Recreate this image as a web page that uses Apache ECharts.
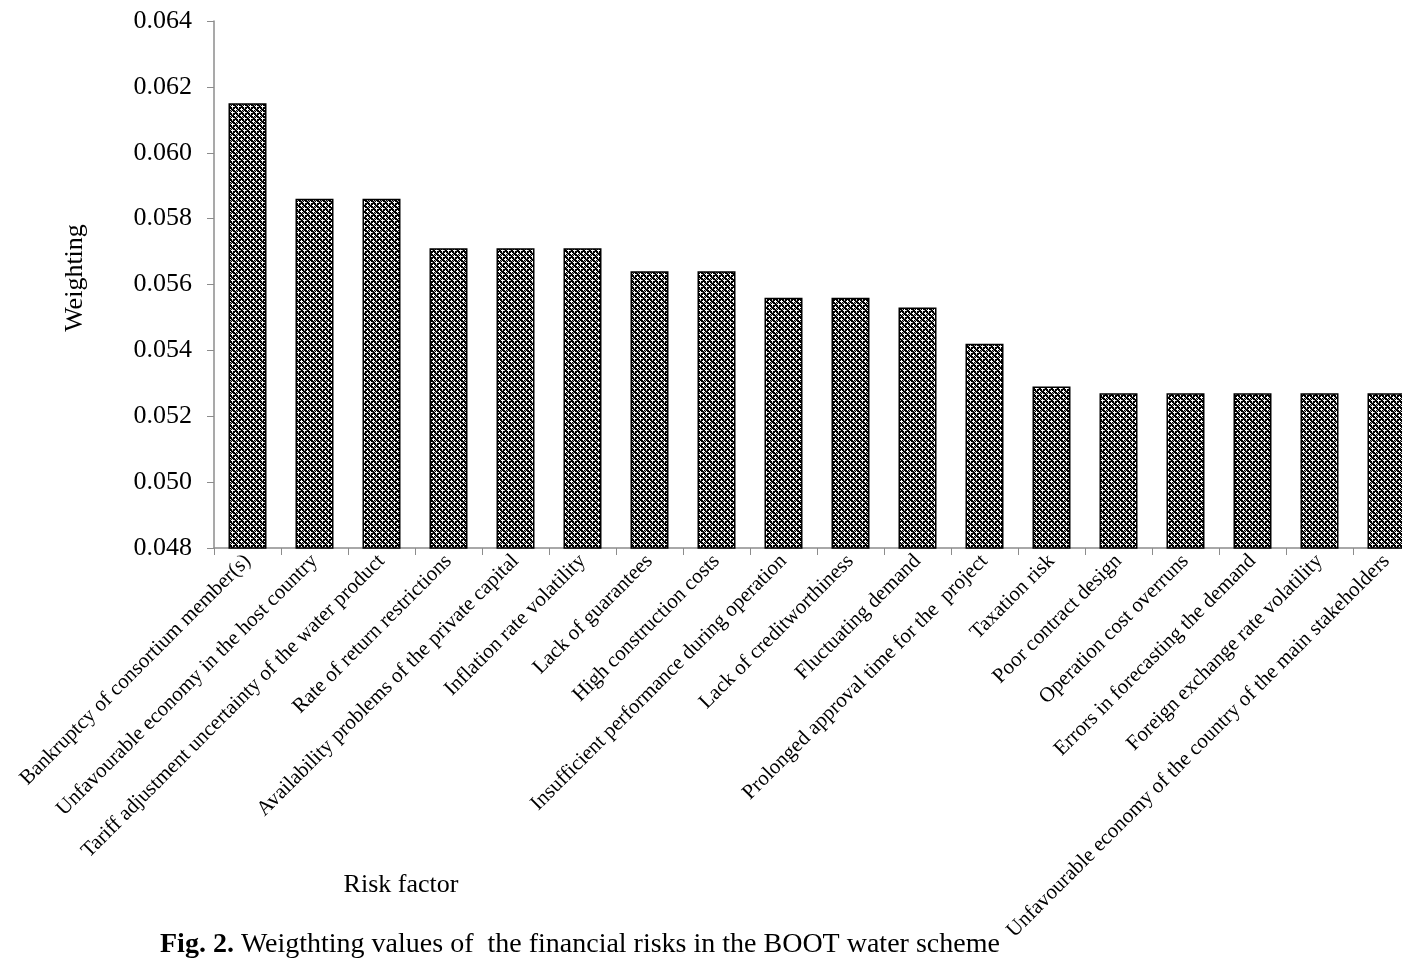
<!DOCTYPE html>
<html>
<head>
<meta charset="utf-8">
<script src="https://cdn.jsdelivr.net/npm/echarts@6/dist/echarts.min.js"></script>
<style>
html,body{margin:0;padding:0;background:#fff;overflow:hidden;width:1402px;height:971px;}
#chart{width:1420px;height:971px;}
</style>
</head>
<body>
<div id="chart"></div>
<script>
const categories = [
  "Bankruptcy of consortium member(s)",
  "Unfavourable economy in the host country",
  "Tariff adjustment uncertainty of the water product",
  "Rate of return restrictions",
  "Availability problems of the private capital",
  "Inflation rate volatility",
  "Lack of guarantees",
  "High construction costs",
  "Insufficient performance during operation",
  "Lack of creditworthiness",
  "Fluctuating demand",
  "Prolonged approval time for the  project",
  "Taxation risk",
  "Poor contract design",
  "Operation cost overruns",
  "Errors in forecasting the demand",
  "Foreign exchange rate volatility",
  "Unfavourable economy of the country of the main stakeholders"
];
const weights = [0.0615, 0.0586, 0.0586, 0.0571, 0.0571, 0.0571, 0.0564, 0.0564, 0.0556, 0.0556, 0.0553, 0.0542, 0.0529, 0.0527, 0.0527, 0.0527, 0.0527, 0.0527];
const yMin = 0.048, yMax = 0.064, yStep = 0.002;

// checkered fill pattern
const tile = document.createElement('canvas');
tile.width = 6; tile.height = 6;
const c = tile.getContext('2d');
c.fillStyle = '#000'; c.fillRect(0,0,6,6);
c.fillStyle = '#fff';
[[1,0],[0,1],[1,1],[2,1],[1,2],[4,3],[3,4],[4,4],[5,4],[4,5]].forEach(p=>c.fillRect(p[0],p[1],1,1));
c.fillStyle = '#aaa';
[[4,0],[0,4],[2,3],[3,2]].forEach(p=>c.fillRect(p[0],p[1],1,1));

const serif = '"Liberation Serif","Times New Roman",serif';
const chart = echarts.init(document.getElementById('chart'));
chart.setOption({
  backgroundColor: '#fff',
  animation: false,
  grid: {left: 214, top: 21, height: 527, width: 1206, containLabel: false},
  xAxis: {
    type: 'category',
    data: categories,
    axisLine: {lineStyle: {color: '#8c8c8c', width: 1.5}},
    axisTick: {show: true, alignWithLabel: false, length: 7, lineStyle: {color: '#8c8c8c'}},
    axisLabel: {interval: 0, rotate: 45, color: '#000', fontFamily: serif, fontSize: 21, margin: 10}
  },
  yAxis: {
    type: 'value',
    min: yMin, max: yMax, interval: yStep,
    axisLine: {show: true, lineStyle: {color: '#8c8c8c', width: 1.5}},
    axisTick: {show: true, length: 7, lineStyle: {color: '#8c8c8c'}},
    splitLine: {show: false},
    axisLabel: {color: '#000', fontFamily: serif, fontSize: 26, margin: 22, formatter: v => v.toFixed(3)}
  },
  series: [{
    type: 'bar',
    data: weights,
    barWidth: 38,
    itemStyle: {color: {image: tile, repeat: 'repeat'}, borderColor: '#000', borderWidth: 1.5}
  }],
  graphic: [
    {type: 'text', x: 75, y: 278, rotation: Math.PI/2,
     style: {text: 'Weighting', font: '26px ' + serif, fill: '#000', align: 'center', verticalAlign: 'middle'}},
    {type: 'text', x: 401, y: 885,
     style: {text: 'Risk factor', font: '26px ' + serif, fill: '#000', align: 'center', verticalAlign: 'middle'}},
    {type: 'text', x: 160, y: 945,
     style: {text: '{b|Fig. 2.} Weigthting values of  the financial risks in the BOOT water scheme',
       font: '28px ' + serif, fill: '#000', verticalAlign: 'middle',
       rich: {b: {fontWeight: 'bold', fontSize: 28, fontFamily: serif, fill: '#000'}}}}
  ]
});
</script>
</body>
</html>
